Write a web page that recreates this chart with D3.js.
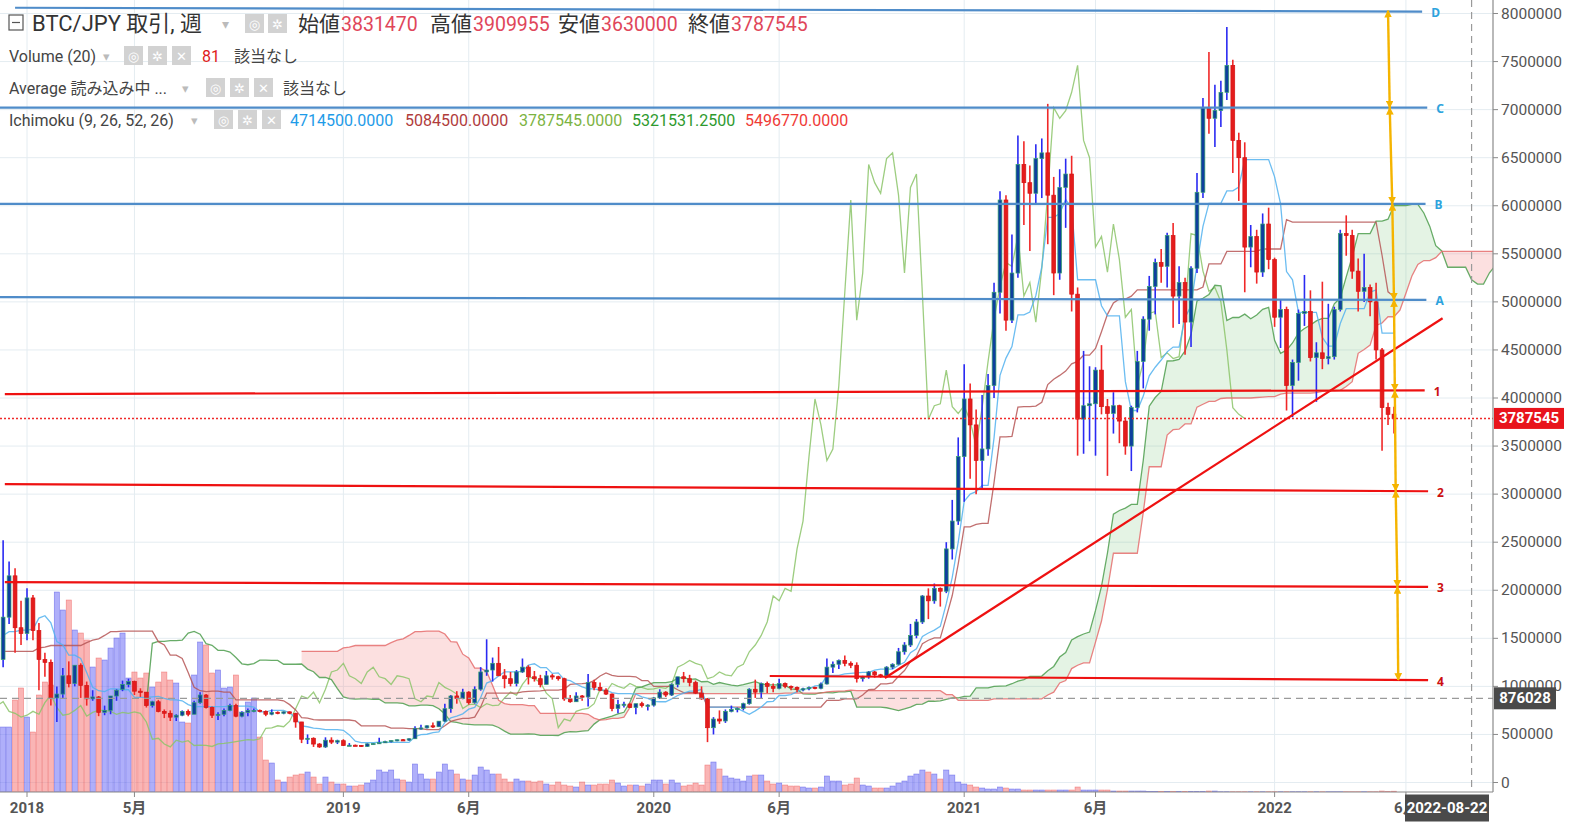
<!DOCTYPE html>
<html>
<head>
<meta charset="utf-8">
<script src="https://cdn.jsdelivr.net/npm/d3@7"></script>
<style>
  body { margin: 0; background: #fff; }
  svg { display: block; }
</style>
</head>
<body>
<svg id="chart" width="1581" height="830"></svg>
<script>
// weekly BTC/JPY candles, 2017-12-04 .. 2022-05-23, values in 10,000 JPY
const openP = [
  128,172,215,161,155,192,158,128,125,88, 92,111,103,122,101,87,89,73,75,90,
  97,102,105,95,94,80,84,74,72,68, 70,74,71,83,91,78,70,71,75,80,
  69,73,75,75,74,71,73,72,73.5,72, 63,45,46,40,37,44,
  42,43.5,38.5,38.8,38.6,37.5,40.2,40.6,41.5,42.5, 43.6,44.5,44.1,45.5,56.4,56.8,59,58,63.8,76.8,
  90,87.5,94,83,97,115,117,124,111,108, 103,115,120,110,108,102,111,110,108,87,
  84,90,89,104,99,96,92,77,81,81.5, 78,82,80,
  80.5,88,94,91,102,110,108,104,93,87, 57,66,64,74,76,77,82,97,94,103,
  100,98,103,100,99,97,97.5,99,98,102.5, 120,123,127,124,122,108,110,115,112,111,
  120,123,136,143,153,167,194,189,202,199, 243,272,
  339,399,372,335,347,413,510,606,481,530, 643,624,613,649,655,611,530,619,633,508,
  378,392,394,429,391,384,392,376,350,390, 438,482,516,541,537,569,506,520,479,535,
  614,702,691,699,718,746,668,650,557,568, 531,581,
  544,484,492,413,437,488,490,442,447,441, 443,492,571,569,532,511,515,500,450,390,383.147
];
const highP = [
  252,230,223,189,202,195,166,135,128,100, 119,126,122,124,105,96,90,80,90,97,
  106,108,106,98,94,85,86,76,75,71, 75,76,85,94,92,79,73,77,82,82,
  74,77,77,76,75,76,74,74,74,72.5, 63,50,47,41,47,47,
  44.5,45,41,39.5,39,40.8,41,46.5,43.5,44, 44.8,45.3,46,58.5,60,59.5,62.5,64,82,91,
  95,97.5,95,100,120,149,130,141,118,115, 117,129,122,116,112,116,113,111,109,91,
  94,91,113,107,104,98,92.5,86,84,83, 82,84,81.5,
  89,97,95,103,110,115,112,106,100,88, 68,75,76,80,78,83,98,107,104,105,
  103,108,104,101,100,98.5,100,99.5,104,129, 126,128,132,126,125,111,116,116,113,121,
  124,140,146,165,170,195,202,207,203,250, 294,359,
  435,415,388,403,425,520,615,611,570,673, 667,642,664,670,706,630,638,649,652,515,
  449,433,432,455,399,406,393,380,392,449, 485,527,545,555,572,582,537,525,537,634,
  712,760,726,730,786,752,676,666,580,575, 592,598,
  546,503,495,440,492,528,512,458,521,498, 495,575,590,575,545,550,518,520,452,395,390.9955
];
const lowP = [
  120,165,135,143,148,148,96,110,80,63, 88,99,100,88,80,85,69,70,71,85,
  95,99,91,89,78,78,73,67,64,64, 69,69,71,82,77,67,65,69,74,68,
  68,69,73,73,69,70,71,71,71,57, 41,40,37,36,36,40,
  40,38,38,38,37,37,39.5,40.4,41.2,41.5, 43,43.5,43.3,45.3,55,56.3,56.8,57.8,63,72.6,
  82,86.6,81,82,95.5,111,105,111,98,100, 100,114,102,105,99,102,107,106,85,83,
  84,85,79,96,95,91,74,72,78,77.5, 71,78,75,
  79,87,89,90,99,104,100,92,86,42, 50,61,62,73,73,75,81,88,87,93,
  94,97,98,96,94,95,96,97,97,102, 114,118,121,119,104,105,108,109,109,110,
  118,122,133,141,150,165,170,186,183,197, 232,268,
  292,316,300,306,340,400,488,470,478,525, 580,553,602,608,560,507,523,577,490,340,
  342,355,340,383,319,363,353,341,324,385, 410,470,487,520,515,473,477,445,453,530,
  608,675,661,682,710,634,605,510,536,519, 526,534,
  474,452,387,380,418,475,438,396,430,435, 440,490,548,524,490,500,485,440,345,372,363
];
const closeP = [
  172,215,161,155,192,158,128,125,88,92, 111,103,122,101,87,89,73,75,90,96,
  102,105,95,94,80,84,74,72,68,70, 74,71,83,91,78,70,71,75,80,69,
  73,75,75,74,71,73,72,73.5,72,63, 45,46,40,37,44,42,
  43.5,38.5,38.8,38.6,37.5,40.2,40.6,41.5,42.5,43.6, 44.5,44.1,45.5,56.4,56.8,59,58,63.8,76.8,90,
  87.5,94,83,97,115,117,124,111,108,103, 115,120,110,108,102,111,110,108,87,84,
  90,89,104,99,96,92,77,81,81.5,78, 82,80,80.5,
  88,94,91,102,110,108,104,93,87,57, 66,64,74,76,77,82,97,94,103,100,
  98,103,100,99,97,97.5,99,98,102.5,120, 123,127,124,122,108,110,115,112,111,120,
  123,136,143,153,167,194,189,202,199,243, 272,339,
  399,372,335,347,413,510,606,481,530,643, 624,613,649,655,611,530,619,633,508,378,
  392,394,429,391,384,392,376,350,390,438, 482,516,541,537,569,506,520,479,535,614,
  702,691,699,718,746,668,650,557,568,531, 581,544,
  484,492,413,437,488,490,442,447,441,443, 492,571,569,532,511,515,500,450,390,383,378.7545
];
const volumes = [
  6500,6500,9200,10400,7500,6000,9700,11000,10700,20000, 18200,19200,16200,15900,15200,12500,13400,13200,14400,15400,
  15900,11400,12000,11400,11900,10500,11000,12000,11200,10900, 7000,6900,11700,15000,14700,11900,12200,10400,10500,11700,
  8000,9000,9400,5500,3200,2900,1200,1000,1500,1700, 1800,2000,1500,800,1500,1000,
  800,800,600,600,700,900,1200,2200,2000,2200, 1300,1200,1000,2800,1800,1300,1300,2000,2800,2200,
  1800,1300,1200,1700,2500,2200,1800,1800,1300,1000, 1300,1100,1100,1000,1100,800,700,1000,700,600,
  500,1000,700,700,800,800,1200,900,600,700, 700,600,800,
  1200,1200,800,1200,900,600,700,900,700,2700, 3000,2300,1600,1400,1300,1100,1600,1700,1700,1100,
  800,900,700,600,600,500,400,400,500,1600, 1100,1100,700,800,1400,700,600,400,400,400,
  600,900,1100,1600,1800,2200,2000,1800,1300,2200, 1700,1000,
  800,700,500,400,300,300,500,400,300,300, 200,200,200,200,200,200,200,200,200,500,
  200,200,200,200,200,100,100,100,100,100, 100,50,50,50,50,50,50,50,50,50,
  50,100,100,30,30,30,30,30,30,30, 30,30,
  30,30,30,30,30,30,30,30,30,30, 30,30,30,30,30,30,30,30,100,50,81
];
// weeks before the visible window (2017-06-05 .. 2017-11-27), estimated so the
// Ichimoku lines at the left edge come out as drawn
const preHigh = [33,33,31,29.5,30,29,32,31,36,47,48,48,55,53,48,45,49,55,65,69,68,83,88,93,105,130];
const preLow  = [28,26,27,26,27,21.5,21,28,29.5,36,42,43,48,45,33,39,44,47,54,62,62,70,65,67,90,95];

const firstWeek = "2017-12-04";
const yTicks = d3.range(0, 8000001, 500000);
const xTickDates  = ["2018-01-01","2018-05-07","2019-01-07","2019-06-03","2020-01-06","2020-06-01","2021-01-04","2021-06-07","2022-01-03","2022-06-06"];
const xTickLabels = ["2018","5月","2019","6月","2020","6月","2021","6月","2022","6月"];

// hand-drawn lines on the chart
const drawNames = ["D","C","B","A","1","2","3","4",""];
const drawKinds = ["blue","blue","blue","blue","red","red","red","red","red"];
const drawStart = ["2017-12-18","2017-11-27","2017-11-27","2017-11-27","2017-12-06","2017-12-06","2017-12-06","2020-05-21","2020-10-03"];
const drawEnd   = ["2022-06-25","2022-07-01","2022-06-29","2022-06-30","2022-06-28","2022-07-02","2022-07-02","2022-07-02","2022-07-19"];
const drawFrom  = [8060000,7020000,6020000,5050000,4040000,3105000,2085000,1108000,1087000];
const drawTo    = [8020000,7020000,6020000,5020000,4080000,3030000,2035000,1066000,4830000];
const arrowLevels = [8030000,7020000,6020000,5020000,4075000,3035000,2035000,1066000];
const arrowDates  = ["2022-05-16","2022-05-18","2022-05-21","2022-05-23","2022-05-24","2022-05-25","2022-05-27","2022-05-28"];

const lastPrice = 3787545;
const crossPrice = 876028;
const crossDate = "2022-08-22";

const legendOHLC = [["始値","3831470"],["高値","3909955"],["安値","3630000"],["終値","3787545"]];
const ichiValues = ["4714500.0000","5084500.0000","3787545.0000","5321531.2500","5496770.0000"];

// ---------------------------------------------------------------
const unit = 10000;
const plotRight = 1493, plotBottom = 792;
const font = "Roboto, 'Noto Sans CJK JP', sans-serif";
const jpFont = "'Noto Sans CJK JP', Roboto, sans-serif";
const parse = d3.utcParse("%Y-%m-%d");
const start = parse(firstWeek);
const weekDate = p => d3.utcDay.offset(start, p * 7);

const svg = d3.select("#chart");
const x = d3.scaleUtc()
    .domain([parse("2018-01-01"), parse("2022-01-03")])
    .range([27, 1274.6]);
const y = d3.scaleLinear().domain([0, 8000000]).range([782.5, 13.5]);
const yVol = d3.scaleLinear().domain([0, 20000]).range([plotBottom, plotBottom - 200]);
const X = p => x(weekDate(p));

svg.append("defs").append("clipPath").attr("id", "plot")
    .append("rect").attr("x", 0).attr("y", 0).attr("width", plotRight).attr("height", plotBottom);
const defs = svg.select("defs");
defs.append("marker")
    .attr("id", "arrowY").attr("viewBox", "0 0 10 10")
    .attr("refX", 9).attr("refY", 5)
    .attr("markerWidth", 3.2).attr("markerHeight", 3.2)
    .attr("orient", "auto-start-reverse")
    .append("path").attr("d", "M0,0 L10,5 L0,10 z").attr("fill", "#f5b400");

// grid
const grid = svg.append("g");
grid.selectAll(".hg").data(yTicks).join("line")
    .attr("x1", 0).attr("x2", plotRight)
    .attr("y1", d => y(d)).attr("y2", d => y(d))
    .attr("stroke", "#e4ecf1").attr("stroke-width", 1);
grid.selectAll(".vg").data(xTickDates).join("line")
    .attr("x1", d => x(parse(d))).attr("x2", d => x(parse(d)))
    .attr("y1", 0).attr("y2", plotBottom)
    .attr("stroke", "#e4ecf1").attr("stroke-width", 1);

const plot = svg.append("g").attr("clip-path", "url(#plot)");
const n = closeP.length;
const up = i => closeP[i] >= openP[i];

// volume
plot.append("g").selectAll("rect").data(volumes).join("rect")
    .attr("x", (d, i) => X(i) - 2.6)
    .attr("width", 5.2)
    .attr("y", d => yVol(d))
    .attr("height", d => plotBottom - yVol(d))
    .attr("fill", (d, i) => up(i) ? "rgba(110,110,245,0.55)" : "rgba(245,120,120,0.55)")
    .attr("stroke", (d, i) => up(i) ? "rgba(70,70,225,0.6)" : "rgba(235,80,80,0.6)")
    .attr("stroke-width", 0.6);

// Ichimoku
const allHigh = preHigh.concat(highP), allLow = preLow.concat(lowP);
const pre = preHigh.length;
function midRange(len, k) {
  if (k - len + 1 < 0) return null;
  return (d3.max(allHigh.slice(k - len + 1, k + 1)) + d3.min(allLow.slice(k - len + 1, k + 1))) / 2;
}
const tenkan = [], kijun = [], spanA = [], spanB = [];
for (let j = -pre; j < n; j++) {
  const k = j + pre;
  const t = midRange(9, k), kj = midRange(26, k), b = midRange(52, k);
  if (j >= 0 && t != null) tenkan.push({ p: j, v: t });
  if (j >= 0 && kj != null) kijun.push({ p: j, v: kj });
  if (t != null && kj != null) spanA.push({ p: j + 25, v: (t + kj) / 2 });
  if (b != null) spanB.push({ p: j + 25, v: b });
}
const chikou = closeP.map((c, i) => ({ p: i - 25, v: c }));
const bByP = new Map(spanB.map(d => [d.p, d.v]));
const cloud = spanA.filter(d => bByP.has(d.p)).map(d => ({ p: d.p, a: d.v, b: bByP.get(d.p) }));

const Yv = v => y(v * unit);
plot.append("path").datum(cloud)
    .attr("d", d3.area().x(d => X(d.p)).y0(d => Yv(d.b)).y1(d => Yv(Math.max(d.a, d.b))))
    .attr("fill", "rgba(120,195,120,0.2)");
plot.append("path").datum(cloud)
    .attr("d", d3.area().x(d => X(d.p)).y0(d => Yv(d.a)).y1(d => Yv(Math.max(d.a, d.b))))
    .attr("fill", "rgba(245,130,130,0.25)");

const line = d3.line().x(d => X(d.p)).y(d => Yv(d.v));
[[chikou, "#8cc46a"], [spanA, "#4e9e4e"], [spanB, "#e56d6d"], [kijun, "#b65656"], [tenkan, "#52b2ee"]]
  .forEach(([data, color]) => {
    plot.append("path").datum(data).attr("d", line)
        .attr("fill", "none").attr("stroke", color).attr("stroke-width", 1.3).attr("stroke-opacity", 0.85);
  });

// candles
const candles = plot.append("g").selectAll("g").data(d3.range(n)).join("g");
candles.append("line")
    .attr("x1", i => X(i)).attr("x2", i => X(i))
    .attr("y1", i => Yv(highP[i])).attr("y2", i => Yv(lowP[i]))
    .attr("stroke", i => up(i) ? "#2a2af2" : "#f02828").attr("stroke-width", 1.6);
candles.append("rect")
    .attr("x", i => X(i) - 1.9).attr("width", 3.8)
    .attr("y", i => Math.min(Yv(openP[i]), Yv(closeP[i])))
    .attr("height", i => Math.max(1.2, Math.abs(Yv(openP[i]) - Yv(closeP[i]))))
    .attr("fill", i => up(i) ? "#0e3f9e" : "#e41c1c")
    .attr("stroke", i => up(i) ? "#3aa56e" : "#d41414")
    .attr("stroke-width", 0.7);

// current price and crosshair
plot.append("line").attr("x1", 0).attr("x2", plotRight)
    .attr("y1", y(lastPrice)).attr("y2", y(lastPrice))
    .attr("stroke", "#f02a2a").attr("stroke-width", 1.5).attr("stroke-dasharray", "2,2");
plot.append("line").attr("x1", 0).attr("x2", plotRight)
    .attr("y1", y(crossPrice)).attr("y2", y(crossPrice))
    .attr("stroke", "#9a9a9a").attr("stroke-width", 1.2).attr("stroke-dasharray", "7,5");
plot.append("line").attr("x1", x(parse(crossDate))).attr("x2", x(parse(crossDate)))
    .attr("y1", 0).attr("y2", plotBottom)
    .attr("stroke", "#9a9a9a").attr("stroke-width", 1.2).attr("stroke-dasharray", "7,5");

// drawings
const draw = svg.append("g");
drawNames.forEach((name, k) => {
  const blue = drawKinds[k] === "blue";
  const x1 = x(parse(drawStart[k])), x2 = x(parse(drawEnd[k]));
  draw.append("line")
      .attr("x1", Math.max(0, x1)).attr("x2", x2)
      .attr("y1", y(drawFrom[k] + (drawTo[k] - drawFrom[k]) * (Math.max(0, x1) - x1) / (x2 - x1)))
      .attr("y2", y(drawTo[k]))
      .attr("stroke", blue ? "#4f8cc9" : "#ee1111")
      .attr("stroke-width", 2.2);
  if (name) {
    draw.append("text")
        .attr("x", x2 + 9).attr("y", y(drawTo[k]) + 1)
        .attr("dominant-baseline", "central")
        .attr("font-family", "'Noto Sans', sans-serif").attr("font-weight", "bold")
        .attr("font-size", 12)
        .attr("fill", blue ? "#2ea3dd" : "#cc1010")
        .text(name);
  }
});
for (let k = 0; k < arrowLevels.length - 1; k++) {
  draw.append("line")
      .attr("x1", x(parse(arrowDates[k]))).attr("y1", y(arrowLevels[k]))
      .attr("x2", x(parse(arrowDates[k + 1]))).attr("y2", y(arrowLevels[k + 1]))
      .attr("stroke", "#f5b400").attr("stroke-width", 2.4)
      .attr("marker-start", "url(#arrowY)").attr("marker-end", "url(#arrowY)");
}

// axes
const axes = svg.append("g");
axes.append("line").attr("x1", plotRight).attr("x2", plotRight).attr("y1", 0).attr("y2", plotBottom)
    .attr("stroke", "#8a8a8a").attr("stroke-width", 1.2);
axes.append("line").attr("x1", 0).attr("x2", plotRight).attr("y1", plotBottom).attr("y2", plotBottom)
    .attr("stroke", "#8a8a8a").attr("stroke-width", 1.2);
axes.selectAll(".yt").data(yTicks).join("line")
    .attr("x1", plotRight).attr("x2", plotRight + 5)
    .attr("y1", d => y(d)).attr("y2", d => y(d)).attr("stroke", "#8a8a8a");
axes.selectAll(".yl").data(yTicks).join("text")
    .attr("x", plotRight + 8).attr("y", d => y(d))
    .attr("dominant-baseline", "central")
    .attr("font-family", font).attr("font-size", 15.5).attr("fill", "#555")
    .text(d => d3.format("d")(d));
axes.selectAll(".xt").data(xTickDates).join("line")
    .attr("x1", d => x(parse(d))).attr("x2", d => x(parse(d)))
    .attr("y1", plotBottom).attr("y2", plotBottom + 5).attr("stroke", "#8a8a8a");
axes.selectAll(".xl").data(xTickDates).join("text")
    .attr("x", d => x(parse(d))).attr("y", 813)
    .attr("text-anchor", "middle")
    .attr("font-family", font).attr("font-weight", "bold").attr("font-size", 15).attr("fill", "#555")
    .text((d, i) => xTickLabels[i]);

// price tags
function tag(xl, yc, w, h, fill, text) {
  axes.append("rect").attr("x", xl).attr("y", yc - h / 2).attr("width", w).attr("height", h).attr("fill", fill);
  axes.append("text").attr("x", xl + w / 2).attr("y", yc)
      .attr("text-anchor", "middle").attr("dominant-baseline", "central")
      .attr("font-family", font).attr("font-weight", "bold").attr("font-size", 15).attr("fill", "#fff")
      .text(text);
}
tag(plotRight + 1, y(lastPrice), 70, 21, "#e8141c", d3.format("d")(lastPrice));
tag(plotRight + 1, y(crossPrice), 62, 22, "#4a4a4a", d3.format("d")(crossPrice));
tag(1405, 808, 84, 27, "#4a4a4a", crossDate);

// legend
const lg = svg.append("g");
function txt(xp, yp, s, size, color, fam) {
  lg.append("text").attr("x", xp).attr("y", yp)
    .attr("font-family", fam || font).attr("font-size", size).attr("fill", color).text(s);
}
function icons(xs, top) {
  const syms = ["◎", "✲", "✕"];
  xs.forEach((xp, k) => {
    lg.append("rect").attr("x", xp).attr("y", top).attr("width", 19).attr("height", 19).attr("fill", "#d2d2d2");
    lg.append("text").attr("x", xp + 9.5).attr("y", top + 10).attr("text-anchor", "middle")
      .attr("dominant-baseline", "central").attr("font-family", "'DejaVu Sans', sans-serif")
      .attr("font-size", 13).attr("fill", "#fff").text(syms[k]);
  });
}
lg.append("rect").attr("x", 9).attr("y", 15).attr("width", 14).attr("height", 15)
  .attr("fill", "none").attr("stroke", "#555").attr("stroke-width", 1.2);
lg.append("line").attr("x1", 12).attr("x2", 20).attr("y1", 22.5).attr("y2", 22.5).attr("stroke", "#555").attr("stroke-width", 1.2);
txt(32, 31, "BTC/JPY 取引, 週", 22, "#333");
txt(222, 29, "▾", 14, "#bbb", "'DejaVu Sans', sans-serif");
icons([245, 268], 14);
const ohlcX = [298, 430, 558, 688];
legendOHLC.forEach(([k, v], i) => {
  txt(ohlcX[i], 31, k, 21, "#333", jpFont);
  txt(ohlcX[i] + 43, 31, v, 19.5, "#e0465a");
});
txt(9, 62, "Volume (20)", 16, "#444");
txt(103, 61, "▾", 13, "#bbb", "'DejaVu Sans', sans-serif");
icons([124, 148, 172], 46);
txt(202, 62, "81", 16, "#e01b1b");
txt(234, 62, "該当なし", 16, "#444", jpFont);
txt(9, 94, "Average 読み込み中 ...", 16, "#444");
txt(182, 93, "▾", 13, "#bbb", "'DejaVu Sans', sans-serif");
icons([206, 230, 254], 78);
txt(283, 94, "該当なし", 16, "#444", jpFont);
txt(9, 126, "Ichimoku (9, 26, 52, 26)", 16, "#444");
txt(191, 125, "▾", 13, "#bbb", "'DejaVu Sans', sans-serif");
icons([214, 238, 262], 110);
const ichiX = [290, 405, 519, 632, 745];
const ichiColors = ["#1e9be8", "#b03c3c", "#7cb342", "#2e9a2e", "#ef3b36"];
ichiValues.forEach((v, i) => txt(ichiX[i], 126, v, 16, ichiColors[i]));
</script>
</body>
</html>
